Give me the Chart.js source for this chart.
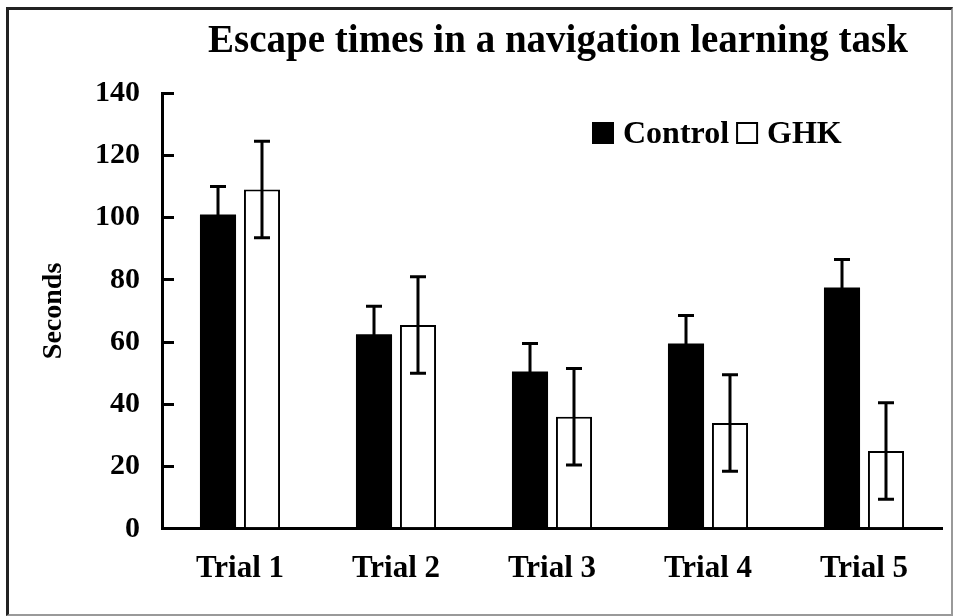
<!DOCTYPE html>
<html>
<head>
<meta charset="utf-8">
<script src="https://cdn.jsdelivr.net/npm/chart.js@4.4.1/dist/chart.umd.min.js"></script>
<style>
  html, body { margin: 0; padding: 0; background: #fff; }
  #wrap { position: relative; width: 955px; height: 616px; }
  #frame {
    position: absolute; left: 6px; top: 7px; width: 942px; height: 604px;
    border-left: 3px solid #222; border-top: 3px solid #222;
    border-right: 2px solid #999; border-bottom: 2px solid #999;
    pointer-events: none;
  }
  canvas { position: absolute; left: 0; top: 0; }
</style>
</head>
<body>
<div id="wrap">
  <canvas id="chart" width="955" height="616"></canvas>
  <div id="frame"></div>
</div>
<script>
// Data
const trials = ['Trial 1', 'Trial 2', 'Trial 3', 'Trial 4', 'Trial 5'];
const controlMeans = [101, 62.5, 50.5, 59.5, 77.5];
const controlErr = [9, 9, 9, 9, 9];
const ghkMeans = [109, 65.5, 36, 34, 25];
const ghkErr = [15.5, 15.5, 15.5, 15.5, 15.5];
const yTicks = [0, 20, 40, 60, 80, 100, 120, 140];

const chartTitle = 'Escape times in a navigation learning task';
const serif = "'Liberation Serif', 'Times New Roman', serif";

Chart.defaults.font.family = serif;
Chart.defaults.font.weight = 'bold';
Chart.defaults.color = '#000';

// error bars drawn from each bar element and the y scale
const errorBars = {
    id: 'errorBars',
    afterDatasetsDraw(chart) {
        const ctx = chart.ctx;
        const yScale = chart.scales.y;
        chart.data.datasets.forEach((ds, i) => {
            const meta = chart.getDatasetMeta(i);
            meta.data.forEach((bar, j) => {
                const v = ds.data[j];
                const e = ds.errors[j];
                const yHi = yScale.getPixelForValue(v + e);
                const yLo = yScale.getPixelForValue(v - e);
                ctx.save();
                ctx.strokeStyle = '#000';
                ctx.lineWidth = 3;
                ctx.beginPath();
                ctx.moveTo(bar.x, yHi);
                ctx.lineTo(bar.x, yLo);
                ctx.moveTo(bar.x - 8, yHi);
                ctx.lineTo(bar.x + 8, yHi);
                ctx.moveTo(bar.x - 8, yLo);
                ctx.lineTo(bar.x + 8, yLo);
                ctx.stroke();
                ctx.restore();
            });
        });
    }
};

// title and legend
const decorations = {
    id: 'decorations',
    afterDraw(chart) {
        const ctx = chart.ctx;
        const area = chart.chartArea;
        ctx.save();
        ctx.fillStyle = '#000';
        ctx.textBaseline = 'alphabetic';
        ctx.textAlign = 'center';
        ctx.font = 'bold 39px ' + serif;
        ctx.fillText(chartTitle, (area.left + area.right) / 2 + 6, 52);

        // legend
        ctx.textAlign = 'left';
        ctx.font = 'bold 32px ' + serif;
        let x = 593;
        const y = 123;
        chart.data.datasets.forEach((ds) => {
            ctx.fillStyle = ds.backgroundColor;
            ctx.fillRect(x, y, 20, 20);
            ctx.strokeStyle = '#000';
            ctx.lineWidth = 2;
            ctx.strokeRect(x, y, 20, 20);
            ctx.fillStyle = '#000';
            ctx.fillText(ds.label, x + 30, y + 20);
            x += 30 + ctx.measureText(ds.label).width + 8;
        });
        ctx.restore();
    }
};

new Chart(document.getElementById('chart'), {
    type: 'bar',
    data: {
        labels: trials,
        datasets: [
            {
                label: 'Control',
                data: controlMeans,
                errors: controlErr,
                backgroundColor: '#000',
                borderColor: '#000',
                borderWidth: 0
            },
            {
                label: 'GHK',
                data: ghkMeans,
                errors: ghkErr,
                backgroundColor: '#fff',
                borderColor: '#000',
                borderWidth: 2
            }
        ]
    },
    options: {
        responsive: false,
        animation: false,
        events: [],
        datasets: {
            bar: { categoryPercentage: 0.564, barPercentage: 0.82 }
        },
        layout: { padding: { top: 93, left: 0, right: 13, bottom: 6 } },
        plugins: {
            legend: { display: false },
            title: { display: false },
            tooltip: { enabled: false }
        },
        scales: {
            x: {
                grid: { display: false, drawTicks: false },
                border: { display: true, color: '#000', width: 3 },
                ticks: { font: { size: 31, weight: 'bold' }, padding: 22, color: '#000' }
            },
            y: {
                min: 0,
                max: 140,
                afterBuildTicks(scale) {
                    scale.ticks = yTicks.map(v => ({ value: v }));
                },
                afterFit(scale) { scale.width = 162; },
                grid: {
                    drawOnChartArea: false,
                    drawTicks: true,
                    tickLength: -12,
                    lineWidth: 3,
                    color: '#000'
                },
                border: { display: true, color: '#000', width: 3 },
                ticks: { font: { size: 30, weight: 'bold' }, padding: 34, color: '#000' },
                title: {
                    display: true,
                    text: 'Seconds',
                    font: { size: 28, weight: 'bold' },
                    color: '#000',
                    padding: { top: 37, bottom: 0 }
                }
            }
        }
    },
    plugins: [errorBars, decorations]
});
</script>
</body>
</html>
